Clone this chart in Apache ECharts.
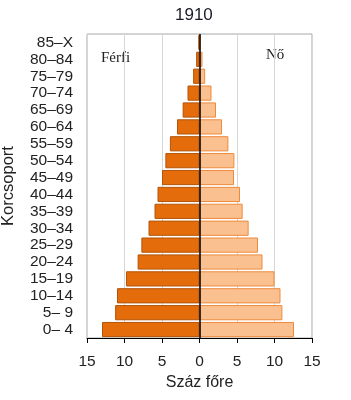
<!DOCTYPE html>
<html><head><meta charset="utf-8">
<script src="https://cdn.jsdelivr.net/npm/echarts@6/dist/echarts.min.js"></script>
<style>html,body{margin:0;padding:0;background:#fff}#c{width:351px;height:400px}</style>
</head><body><div id="c"></div>
<script>
var categories = ['0– 4','5– 9','10–14','15–19','20–24','25–29','30–34','35–39','40–44','45–49','50–54','55–59','60–64','65–69','70–74','75–79','80–84','85–X'];
var male = [13.0,11.25,11.0,9.8,8.25,7.75,6.8,6.0,5.6,5.0,4.55,3.95,3.0,2.25,1.6,0.85,0.45,0.15];
var female = [12.6,11.05,10.8,10.0,8.4,7.8,6.55,5.75,5.4,4.6,4.65,3.85,3.0,2.2,1.6,0.75,0.4,0.1];
var xTicks = [-15,-10,-5,0,5,10,15];
var title = '1910';
var maleName = 'Férfi', femaleName = 'Nő';

var chart = echarts.init(document.getElementById('c'));
var font = 'Liberation Sans, Arial, sans-serif';
chart.setOption({
  animation:false,
  title:{text:title,left:170,top:2,textStyle:{fontSize:17,fontWeight:'normal',color:'#1a1a2a',fontFamily:font}},
  grid:{left:87,right:39,top:34,bottom:62,show:true,borderColor:'#a8a8a8',borderWidth:1,outerBoundsMode:'none',containLabel:false},
  xAxis:{type:'value',min:-15,max:15,interval:5,
    name:'Száz főre',nameLocation:'middle',nameGap:35,
    nameTextStyle:{fontSize:16,color:'#222',fontFamily:font},
    axisLine:{show:true,onZero:false,lineStyle:{color:'#000'}},
    axisTick:{show:true,length:5,lineStyle:{color:'#000'}},
    axisLabel:{fontSize:15.5,color:'#222',fontFamily:font,margin:16,formatter:function(v){return String(Math.abs(v));}},
    splitLine:{show:true,lineStyle:{color:'#d6d6d6'}}},
  yAxis:{type:'category',data:categories,
    name:'Korcsoport',nameLocation:'middle',nameGap:70,nameRotate:90,
    nameTextStyle:{fontSize:16.5,color:'#222',fontFamily:font},
    axisLine:{show:false},axisTick:{show:false},
    axisLabel:{interval:0,fontSize:15.5,color:'#222',fontFamily:font,margin:14}},
  graphic:[
    {type:'text',left:101,top:51,style:{text:maleName,fontSize:15,fontFamily:'Liberation Serif, Times New Roman, serif',fill:'#222'}},
    {type:'text',left:266,top:48,style:{text:femaleName,fontSize:15,fontFamily:'Liberation Serif, Times New Roman, serif',fill:'#222'}}
  ],
  series:[
    {name:maleName,type:'bar',stack:'p',barCategoryGap:'10%',
      data:male.map(function(v){return -v;}),
      itemStyle:{color:'#E46C0A',borderColor:'#B35408',borderWidth:1},
      markLine:{silent:true,symbol:'none',label:{show:false},lineStyle:{color:'#000',type:'solid',width:1.5},data:[{xAxis:0}]}},
    {name:femaleName,type:'bar',stack:'p',barCategoryGap:'10%',
      data:female,
      itemStyle:{color:'#FAC08F',borderColor:'#EE8A3C',borderWidth:1}}
  ]
});
</script></body></html>
